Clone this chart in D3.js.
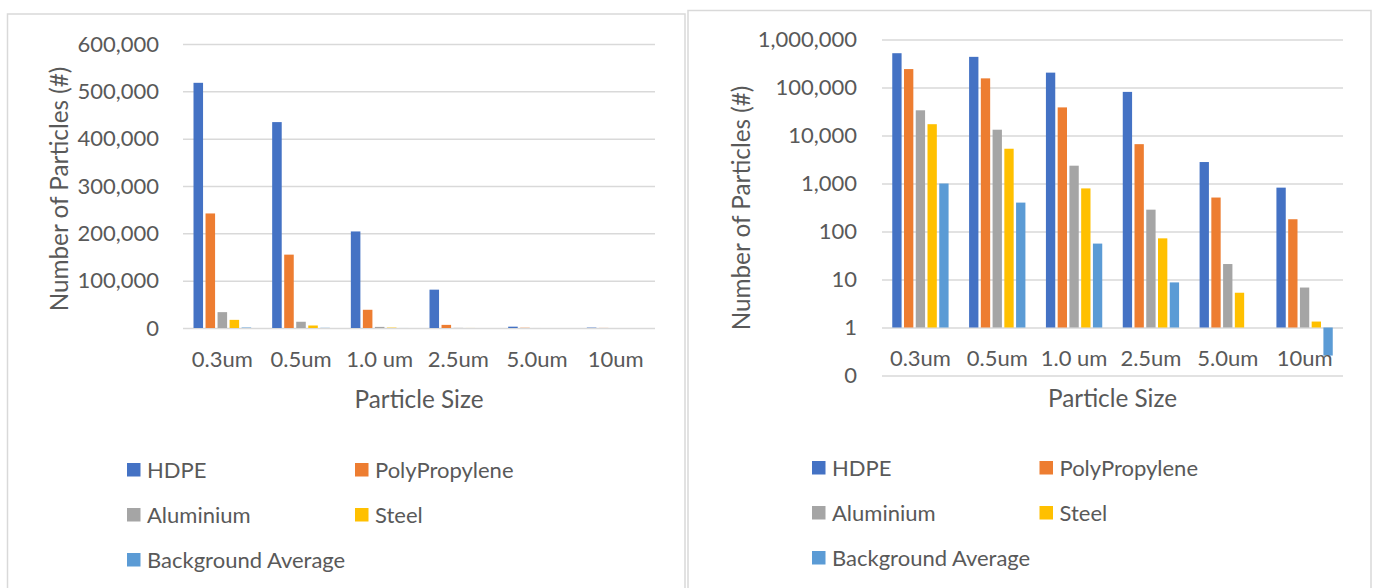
<!DOCTYPE html>
<html>
<head>
<meta charset="utf-8">
<script src="https://cdn.jsdelivr.net/npm/d3@7/dist/d3.min.js"></script>
<style>
  html, body { margin: 0; padding: 0; background: #fff; }
  svg { display: block; }
  text { font-family: Lato, "Open Sans", sans-serif; fill: #595959; }
</style>
</head>
<body>
<svg id="chart" width="1376" height="588"></svg>
<script>
// ---------- data ----------
const categories = ["0.3um", "0.5um", "1.0 um", "2.5um", "5.0um", "10um"];
const seriesNames = ["HDPE", "PolyPropylene", "Aluminium", "Steel", "Background Average"];
const hdpe          = [518000, 435000, 204000, 81000, 2800, 820];
const polypropylene = [242000, 155000, 38500, 6600, 510, 180];
const aluminium     = [33500, 13200, 2350, 285, 21, 6.8];
const steel         = [17200, 5300, 790, 72, 5.3, 1.33];
const background    = [1000, 400, 56, 8.7, 1, 0.26];
const linearTicks = [0, 100000, 200000, 300000, 400000, 500000, 600000];
const logTicks = [0.1, 1, 10, 100, 1000, 10000, 100000, 1000000];
const yTitle = "Number of Particles (#)";
const xTitle = "Particle Size";

const seriesValues = [hdpe, polypropylene, aluminium, steel, background];
const colors = ["#4472C4", "#ED7D31", "#A5A5A5", "#FFC000", "#5B9BD5"];
const fmt = d3.format(",.0f");
const FS = 22;
const TFS = 24.3;

const svg = d3.select("#chart");

function drawPanel(cfg) {
  const g = svg.append("g");
  // panel border
  g.append("rect")
    .attr("x", cfg.box[0]).attr("y", cfg.box[1])
    .attr("width", cfg.box[2] - cfg.box[0]).attr("height", 620 - cfg.box[1])
    .attr("fill", "#fff").attr("stroke", "#d9d9d9").attr("stroke-width", 1.5);

  const x0 = d3.scaleBand().domain(categories).range([cfg.left, cfg.right]).paddingInner(0).paddingOuter(0);
  const x1 = d3.scaleBand().domain(seriesNames).range([0, x0.bandwidth()])
    .paddingInner(0.206).paddingOuter(0.873);
  const y = cfg.y;

  // gridlines + y labels
  const yAxis = d3.axisLeft(y).tickValues(cfg.ticks).tickFormat(fmt)
    .tickSizeInner(-(cfg.right - cfg.left)).tickSizeOuter(0).tickPadding(cfg.tickPad);
  const ya = g.append("g").attr("transform", `translate(${cfg.left},0)`).call(yAxis);
  ya.select(".domain").remove();
  ya.selectAll(".tick line").attr("stroke", "#d9d9d9").attr("stroke-width", 1.5);
  ya.selectAll(".tick text").attr("font-size", FS).attr("fill", "#595959")
    .style("font-family", "Lato, sans-serif");

  // bars
  const base = cfg.base;
  categories.forEach((c, ci) => {
    seriesNames.forEach((s, si) => {
      const v = seriesValues[si][ci];
      if (v == null) return;
      const y0 = y(base), y1 = y(v);
      g.append("rect")
        .attr("x", x0(c) + x1(s))
        .attr("width", x1.bandwidth())
        .attr("y", Math.min(y0, y1))
        .attr("height", Math.abs(y0 - y1))
        .attr("fill", colors[si]);
    });
  });

  // category axis
  const xAxis = d3.axisBottom(x0).tickSize(0).tickPadding(0);
  const xa = g.append("g").attr("transform", `translate(0,${y(base)})`).call(xAxis);
  xa.select(".domain").remove();
  xa.selectAll(".tick text").attr("font-size", FS).attr("fill", "#595959")
    .attr("dy", 0).attr("y", cfg.catBaseline - y(base))
    .style("font-family", "Lato, sans-serif");

  // axis titles
  g.append("text")
    .attr("transform", `translate(${cfg.yTitleX},${cfg.yTitleY}) rotate(-90)`)
    .attr("text-anchor", "middle").attr("dy", "0.35em")
    .attr("font-size", TFS).text(yTitle);
  g.append("text")
    .attr("x", (cfg.left + cfg.right) / 2).attr("y", cfg.xTitleBaseline)
    .attr("text-anchor", "middle").attr("font-size", TFS).text(xTitle);

  // legend
  const lg = g.append("g");
  seriesNames.forEach((s, si) => {
    const col = si % 2, row = Math.floor(si / 2);
    const lx = cfg.legendX[col], ly = cfg.legendY[row];
    lg.append("rect").attr("x", lx).attr("y", ly - 7).attr("width", 13.5).attr("height", 13.5)
      .attr("fill", colors[si]);
    lg.append("text").attr("x", lx + 20).attr("y", ly).attr("dy", "0.35em")
      .attr("font-size", FS).text(s);
  });
}

// Left: linear
drawPanel({
  box: [7.5, 14, 685],
  left: 183, right: 655,
  y: d3.scaleLinear().domain([0, 600000]).range([328, 44]),
  ticks: linearTicks,
  base: 0,
  tickPad: 24,
  catBaseline: 367,
  xTitleBaseline: 407.5,
  yTitleX: 59, yTitleY: 189,
  legendX: [127, 355],
  legendY: [470, 515, 560]
});

// Right: log
drawPanel({
  box: [688, 10.5, 1371],
  left: 882, right: 1343,
  y: d3.scaleLog().domain([0.1, 1000000]).range([375.5, 39.5]),
  ticks: logTicks,
  base: 1,
  tickPad: 25,
  catBaseline: 366,
  xTitleBaseline: 407,
  yTitleX: 741, yTitleY: 208,
  legendX: [812, 1039.5],
  legendY: [468, 513, 558]
});
</script>
</body>
</html>
